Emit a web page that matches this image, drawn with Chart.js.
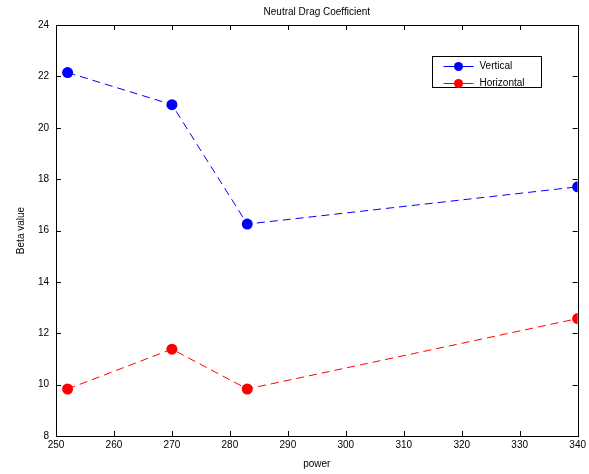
<!DOCTYPE html>
<html>
<head>
<meta charset="utf-8">
<script src="https://cdn.jsdelivr.net/npm/chart.js@4.4.1/dist/chart.umd.min.js"></script>
<style>
  html, body { margin: 0; padding: 0; background: #fff; }
  #wrap { width: 589px; height: 474px; }
</style>
</head>
<body>
<div id="wrap"><canvas id="c" width="589" height="474"></canvas></div>
<script>
const powerValues = [252, 270, 283, 340];
const verticalValues = [22.15, 20.9, 16.25, 17.7];
const horizontalValues = [9.83, 11.38, 9.83, 12.57];
const xTickValues = [250, 260, 270, 280, 290, 300, 310, 320, 330, 340];
const yTickValues = [8, 10, 12, 14, 16, 18, 20, 22, 24];
const seriesLabels = ['Vertical', 'Horizontal'];
const chartTitle = 'Neutral Drag Coefficient';
const xTitle = 'power';
const yTitle = 'Beta value';

const FONT = 'Arial, "Liberation Sans", sans-serif';

function toPoints(xs, ys) { return xs.map((x, i) => ({ x: x, y: ys[i] })); }

const boxPlugin = {
  id: 'matlabBox',
  afterDraw(chart) {
    const ctx = chart.ctx;
    const a = chart.chartArea;
    const xs = chart.scales.x, ys = chart.scales.y;
    const L = 5;
    ctx.save();
    ctx.strokeStyle = '#000';
    ctx.lineWidth = 1;
    ctx.beginPath();
    xTickValues.forEach(v => {
      const p = Math.round(xs.getPixelForValue(v)) + 0.5;
      ctx.moveTo(p, a.bottom); ctx.lineTo(p, a.bottom - L);
      ctx.moveTo(p, a.top); ctx.lineTo(p, a.top + L);
    });
    yTickValues.forEach(v => {
      const p = Math.round(ys.getPixelForValue(v)) + 0.5;
      ctx.moveTo(a.left, p); ctx.lineTo(a.left + L, p);
      ctx.moveTo(a.right, p); ctx.lineTo(a.right - L, p);
    });
    ctx.stroke();
    ctx.strokeRect(Math.round(a.left) + 0.5, Math.round(a.top) + 0.5,
                   Math.round(a.right - a.left), Math.round(a.bottom - a.top));

    // legend box inside the axes (upper right)
    const bx = 432.5, by = 56.5, bw = 109, bh = 31;
    ctx.fillStyle = '#fff';
    ctx.fillRect(bx, by, bw, bh);
    ctx.strokeRect(bx, by, bw, bh);
    ctx.font = '10px ' + FONT;
    ctx.textBaseline = 'middle';
    ctx.textAlign = 'left';
    chart.data.datasets.forEach((ds, i) => {
      const yy = by + 10 + i * 17;
      ctx.strokeStyle = ds.borderColor;
      ctx.beginPath();
      ctx.moveTo(bx + 11, yy); ctx.lineTo(bx + 41, yy);
      ctx.stroke();
      ctx.fillStyle = ds.backgroundColor;
      ctx.beginPath();
      ctx.arc(bx + 26, yy, 4.5, 0, Math.PI * 2);
      ctx.fill();
      ctx.fillStyle = '#000';
      ctx.fillText(ds.label, bx + 47, yy);
    });
    ctx.restore();
  }
};

new Chart(document.getElementById('c'), {
  type: 'line',
  data: {
    datasets: [
      {
        label: seriesLabels[0],
        data: toPoints(powerValues, verticalValues),
        borderColor: 'rgb(0,0,255)',
        backgroundColor: 'rgb(0,0,255)',
        borderWidth: 1,
        borderDash: [8, 5],
        pointRadius: 5.5,
        pointBorderWidth: 0,
        pointBackgroundColor: 'rgb(0,0,255)',
        tension: 0
      },
      {
        label: seriesLabels[1],
        data: toPoints(powerValues, horizontalValues),
        borderColor: 'rgb(255,0,0)',
        backgroundColor: 'rgb(255,0,0)',
        borderWidth: 1,
        borderDash: [8, 5],
        pointRadius: 5.5,
        pointBorderWidth: 0,
        pointBackgroundColor: 'rgb(255,0,0)',
        tension: 0
      }
    ]
  },
  options: {
    responsive: false,
    animation: false,
    devicePixelRatio: 1,
    layout: { padding: { left: 0, right: 11, top: 0, bottom: 0 } },
    plugins: {
      legend: { display: false },
      tooltip: { enabled: false },
      title: {
        display: true,
        text: chartTitle,
        fullSize: false,
        color: '#000',
        font: { family: FONT, size: 10, weight: 'normal', lineHeight: 1.2 },
        padding: { top: 6, bottom: 7 }
      }
    },
    scales: {
      x: {
        type: 'linear',
        min: 250, max: 340,
        afterBuildTicks(scale) { scale.ticks = xTickValues.map(v => ({ value: v })); },
        afterFit(scale) { scale.height = 38; },
        ticks: { color: '#000', font: { family: FONT, size: 10 }, padding: 3, maxRotation: 0, autoSkip: false },
        grid: { drawOnChartArea: false, drawTicks: false },
        border: { display: false },
        title: { display: true, text: xTitle, color: '#000', font: { family: FONT, size: 10 }, padding: { top: 0, bottom: 4 } }
      },
      y: {
        type: 'linear',
        min: 8, max: 24,
        afterBuildTicks(scale) { scale.ticks = yTickValues.map(v => ({ value: v })); },
        afterFit(scale) { scale.width = 56; },
        ticks: { color: '#000', font: { family: FONT, size: 10 }, padding: 7, autoSkip: false },
        grid: { drawOnChartArea: false, drawTicks: false },
        border: { display: false },
        title: { display: true, text: yTitle, color: '#000', font: { family: FONT, size: 10 }, padding: { top: 15, bottom: 0 } }
      }
    }
  },
  plugins: [boxPlugin]
});
</script>
</body>
</html>
